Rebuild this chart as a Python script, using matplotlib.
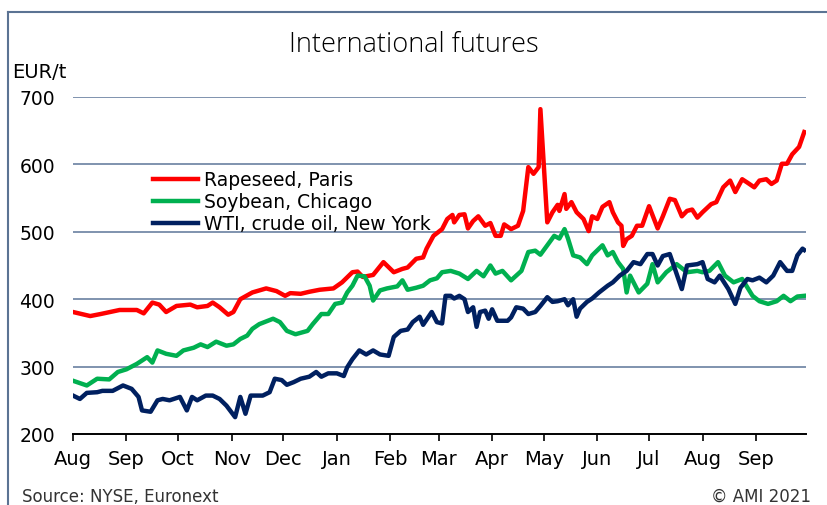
import numpy as np
import pandas as pd
import matplotlib
matplotlib.use("Agg")
import matplotlib.pyplot as plt
from matplotlib.lines import Line2D

# dias desde 01/08/2020 e preços em EUR/t
inicio = pd.Timestamp("2020-08-01")

colza_dias = [0, 10, 16, 27, 37, 41, 46, 50, 54, 60, 68, 72, 78, 81, 85, 90, 93, 97, 104, 112,
              118, 123, 126, 132, 137, 143, 151, 156, 162, 165, 168, 174, 180, 186, 191, 194, 199,
              203, 205, 209, 214, 217, 220, 221, 224, 227, 229, 232, 235, 239, 242, 245, 248, 250,
              254, 258, 261, 264, 267, 270, 271, 273, 275, 278, 281, 282, 285, 286, 289, 292, 296,
              299, 301, 304, 307, 311, 313, 316, 318, 319, 321, 324, 327, 330, 334, 339, 342, 346,
              349, 353, 356, 359, 362, 365, 370, 373, 377, 381, 384, 388, 391, 395, 398, 402, 405,
              408, 411, 414, 417, 421, 424]
colza = [381, 375, 378, 384, 384, 379, 395, 392, 381, 390, 392, 388, 390, 395, 388, 377, 381, 400,
         410, 416, 412, 405, 409, 408, 411, 414, 416, 425, 440, 441, 433, 436, 455, 440, 445, 447,
         460, 462, 475, 494, 504, 519, 525, 514, 525, 526, 505, 516, 523, 509, 513, 494, 494, 511,
         504, 509, 531, 596, 586, 596, 682, 598, 514, 529, 540, 531, 556, 534, 544, 529, 519, 501,
         523, 519, 537, 544, 529, 514, 509, 479, 489, 494, 509, 509, 538, 505, 523, 549, 547, 523,
         531, 533, 521, 529, 541, 544, 566, 576, 559, 578, 573, 566, 576, 578, 571, 576, 601, 601,
         615, 626, 648]

soja_dias = [0, 8, 14, 21, 26, 31, 37, 43, 46, 49, 54, 60, 64, 70, 74, 78, 83, 89, 93, 97, 101,
             104, 108, 116, 120, 124, 129, 136, 139, 144, 148, 152, 156, 159, 162, 165, 169, 172,
             174, 178, 182, 188, 191, 194, 199, 203, 207, 211, 214, 219, 224, 229, 234, 238, 242,
             245, 249, 254, 260, 264, 268, 271, 275, 279, 282, 285, 287, 290, 294, 298, 301, 307,
             310, 313, 316, 319, 321, 323, 328, 333, 336, 339, 344, 350, 356, 362, 365, 369, 374,
             378, 383, 388, 394, 398, 403, 408, 412, 416, 420, 424]
soja = [279, 272, 282, 281, 292, 296, 304, 314, 306, 324, 319, 316, 324, 328, 333, 329, 337, 331,
        333, 341, 346, 356, 363, 371, 366, 353, 348, 353, 363, 378, 378, 393, 395, 410, 420, 435,
        434, 420, 398, 413, 416, 419, 428, 414, 417, 420, 428, 431, 440, 442, 438, 430, 442, 434,
        450, 438, 442, 428, 442, 470, 472, 466, 480, 494, 490, 504, 490, 465, 462, 452, 465, 480,
        465, 470, 455, 445, 410, 435, 410, 423, 452, 425, 440, 452, 440, 442, 440, 442, 455, 435,
        425, 430, 405, 397, 393, 397, 405, 397, 404, 405]

wti_dias = [0, 4, 8, 14, 17, 23, 29, 34, 38, 40, 45, 49, 52, 56, 62, 66, 69, 72, 77, 81, 85, 89,
            94, 97, 100, 103, 110, 114, 117, 121, 124, 128, 132, 137, 141, 144, 148, 153, 157, 159,
            162, 166, 170, 174, 178, 183, 186, 190, 194, 197, 201, 203, 208, 211, 214, 216, 219,
            221, 224, 227, 229, 232, 234, 236, 239, 241, 243, 246, 252, 254, 257, 261, 264, 268,
            271, 275, 278, 281, 285, 287, 290, 292, 294, 298, 301, 305, 310, 313, 317, 321, 325,
            329, 333, 336, 339, 342, 346, 349, 353, 356, 362, 365, 368, 372, 375, 380, 384, 387,
            391, 394, 398, 402, 406, 410, 414, 417, 420, 423, 424]
wti = [257, 252, 261, 262, 264, 264, 272, 267, 255, 235, 233, 250, 252, 250, 255, 235, 255, 250,
       257, 257, 252, 242, 225, 255, 230, 257, 257, 262, 282, 280, 273, 277, 282, 285, 292, 285,
       290, 290, 286, 299, 311, 324, 318, 324, 318, 316, 344, 353, 355, 366, 374, 362, 381, 366,
       364, 405, 405, 401, 405, 400, 381, 388, 359, 381, 383, 371, 385, 368, 368, 373, 388, 386,
       378, 381, 390, 403, 396, 397, 400, 391, 400, 374, 386, 396, 401, 410, 420, 425, 435, 442,
       455, 452, 467, 467, 450, 464, 467, 445, 415, 450, 452, 455, 430, 425, 435, 415, 393, 417,
       430, 428, 432, 425, 435, 455, 442, 442, 465, 475, 473]

meses = pd.date_range("2020-08-01", "2021-09-01", freq="MS")
rotulos_meses = ["Aug", "Sep", "Oct", "Nov", "Dec", "Jan", "Feb", "Mar", "Apr", "May",
                 "Jun", "Jul", "Aug", "Sep"]
valores_y = [200, 300, 400, 500, 600, 700]

cor_grade = "#7F93AE"

fig = plt.figure(figsize=(8.28, 5.06), dpi=100)
ax = fig.add_axes([73 / 828, 1 - 435 / 506, 733 / 828, 337 / 506])

def datas(dias):
    return inicio + pd.to_timedelta(np.array(dias), unit="D")

ax.plot(datas(colza_dias), colza, color="#FF0000", lw=3.2, label="Rapeseed, Paris", zorder=3)
ax.plot(datas(soja_dias), soja, color="#00B050", lw=3.2, label="Soybean, Chicago", zorder=3)
ax.plot(datas(wti_dias), wti, color="#002060", lw=3.2, label="WTI, crude oil, New York", zorder=4)

ax.set_ylim(200, 700)
ax.set_xlim(inicio, inicio + pd.Timedelta(days=425))
for v in valores_y[1:]:
    ax.axhline(v, color=cor_grade, lw=1.4, zorder=1)

ax.set_yticks(valores_y)
ax.set_yticklabels([str(v) for v in valores_y], fontsize=13.5)
ax.tick_params(axis="y", length=0, pad=13)
ax.set_xticks(meses)
ax.set_xticklabels(rotulos_meses, fontsize=14)
ax.tick_params(axis="x", direction="out", length=5, width=1.2, pad=6, color="black")

for lado in ["left", "right", "top"]:
    ax.spines[lado].set_visible(False)
ax.spines["bottom"].set_linewidth(1.4)
ax.spines["bottom"].set_color("black")

fig.legend(loc="upper left", bbox_to_anchor=(144 / 828, 1 - 162 / 506), frameon=False,
           fontsize=13.5, handlelength=2.4, handletextpad=0.3, labelspacing=0.16, borderpad=0)

fig.text(0.5, 1 - 45 / 506, "International futures", ha="center", va="center",
         fontsize=19.5, family="Open Sans", fontweight="light")
fig.text(12 / 828, 1 - 73 / 506, "EUR/t", ha="left", va="center", fontsize=14)
fig.text(22 / 828, 1 - 497 / 506, "Source: NYSE, Euronext", ha="left", va="center",
         fontsize=12, color="#333333")
fig.text(811 / 828, 1 - 497 / 506, "© AMI 2021", ha="right", va="center",
         fontsize=12, color="#333333")

# moldura externa
fig.add_artist(Line2D([8 / 828, 8 / 828], [0, 1 - 13 / 506], color="#5B7393", lw=1.5))
fig.add_artist(Line2D([8 / 828, 1], [1 - 13 / 506, 1 - 13 / 506], color="#5B7393", lw=1.5))

fig.savefig("out.png", dpi=100)
